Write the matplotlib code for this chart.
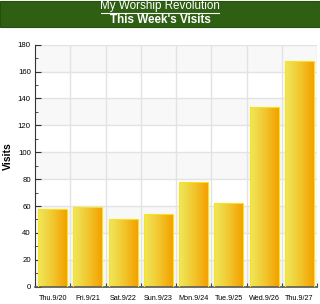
import numpy as np
import matplotlib.pyplot as plt
from matplotlib.colors import LinearSegmentedColormap
from matplotlib.patches import Rectangle

# Data
days = ["Thu.9/20", "Fri.9/21", "Sat.9/22", "Sun.9/23",
        "Mon.9/24", "Tue.9/25", "Wed.9/26", "Thu.9/27"]
visits = [58, 59, 50, 54, 78, 62, 134, 168]
y_ticks = [0, 20, 40, 60, 80, 100, 120, 140, 160, 180]

plt.rcParams['font.family'] = ['Liberation Sans', 'DejaVu Sans']

fig = plt.figure(figsize=(3.2, 3.04), dpi=100)
fig.patch.set_facecolor("white")

# Green header band
fig.patches.append(Rectangle((0, 1 - 27/304), 1, 26/304, transform=fig.transFigure,
                             facecolor="#2e5f13", edgecolor="#24500e", lw=0.8, zorder=0))
fig.text(0.5, 1 - 6.5/304, "My Worship Revolution", color="white", fontsize=8.4,
         ha="center", va="center")
fig.add_artist(plt.Line2D([0.5 - 59/320, 0.5 + 59/320], [1 - 12.5/304, 1 - 12.5/304],
                          color="white", lw=0.8, transform=fig.transFigure))
fig.text(0.5, 1 - 20/304, "This Week's Visits", color="white", fontsize=8.4,
         fontweight="bold", ha="center", va="center")

ax = fig.add_axes([35/320, 17.3/304, 282/320, 242/304])

x = np.arange(len(days))
ax.set_xlim(-0.5, len(days) - 0.5)
ax.set_ylim(0, 180)

# alternating background bands
for lo in range(0, 180, 40):
    ax.axhspan(lo, lo + 20, color="#f8f8f8", zorder=0, lw=0)
for yv in y_ticks[1:]:
    ax.axhline(yv, color="#e3e3e3", lw=1, zorder=0.5)
for xv in np.arange(0.5, len(days), 1):
    ax.axvline(xv, color="#e3e3e3", lw=1, zorder=0.5)

cmap = LinearSegmentedColormap.from_list("bar", ["#efe85c", "#f2c830", "#f4a000"])
grad = np.linspace(0, 1, 64).reshape(1, -1)
width = 0.82
bars = ax.bar(x, visits, width=width, color="none", edgecolor="#f7e21c", lw=0.8, zorder=3)
for b in bars:
    x0, w, h = b.get_x(), b.get_width(), b.get_height()
    im = ax.imshow(grad, cmap=cmap, aspect="auto", extent=(x0, x0 + w, 0, h), zorder=2)
    im.set_clip_path(b)

ax.set_xticks(np.arange(-0.5, len(days), 1))
ax.set_xticklabels([])
ax.set_xticks(x, minor=True)
ax.set_xticklabels(days, minor=True, fontsize=5.2)
ax.tick_params(axis="x", which="minor", length=0, pad=6)
ax.tick_params(axis="x", which="major", direction="in", length=3, color="#444444")

ax.set_yticks(y_ticks)
ax.set_yticklabels([str(v) for v in y_ticks], fontsize=5.6)
ax.set_yticks(np.arange(10, 180, 20), minor=True)
ax.tick_params(axis="y", which="major", direction="in", length=4, color="#333333", pad=3)
ax.tick_params(axis="y", which="minor", direction="in", length=2, color="#333333")

ax.set_ylabel("Visits", fontsize=7.5, fontweight="bold")
ax.yaxis.set_label_coords(-22/282, 0.54)

for s in ["top", "right"]:
    ax.spines[s].set_visible(False)
ax.spines["left"].set_color("#333333")
ax.spines["bottom"].set_color("#555555")
ax.spines["bottom"].set_linewidth(1.2)

fig.savefig("out.png", dpi=100)
